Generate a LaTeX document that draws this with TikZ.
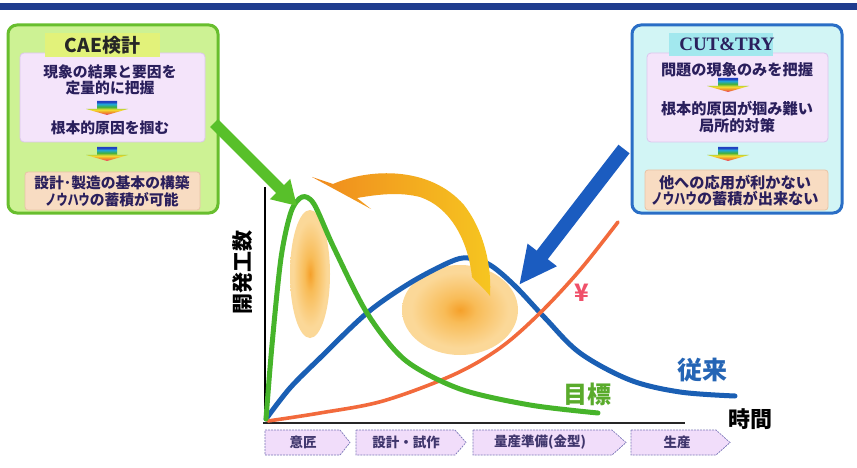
\documentclass[tikz,border=0pt]{standalone}
\usepackage{fontspec}
\newfontfamily\jp{Noto Sans CJK JP}
\newfontfamily\tnr{Liberation Serif}
\usetikzlibrary{arrows.meta}
\definecolor{topbar}{HTML}{1F3C8E}
\definecolor{gborder}{HTML}{68BE2E}
\definecolor{gfill}{HTML}{CDF294}
\definecolor{gtab}{HTML}{E2F27A}
\definecolor{bborder}{HTML}{2A6EC6}
\definecolor{bfill}{HTML}{D2F5F5}
\definecolor{btab}{HTML}{A2E8EE}
\definecolor{lav}{HTML}{F4E4FA}
\definecolor{lavb}{HTML}{DCC6EE}
\definecolor{peach}{HTML}{F8DCC2}
\definecolor{peachb}{HTML}{E8C4A6}
\definecolor{txtnavy}{HTML}{2A1F5C}
\definecolor{stagefill}{HTML}{F1DDFA}
\definecolor{stageb}{HTML}{7A76B8}
\definecolor{cgreen}{HTML}{46B42A}
\definecolor{cblue}{HTML}{1A5FB4}
\definecolor{cred}{HTML}{F26A3C}
\definecolor{goalc}{HTML}{5AAB2C}
\definecolor{convc}{HTML}{2565B5}
\definecolor{yenc}{HTML}{F0506A}
\definecolor{garrowc}{HTML}{58C02A}
\definecolor{barrowc}{HTML}{1B5CC0}
\definecolor{yarrowa}{HTML}{F08A1E}
\definecolor{yarrowb}{HTML}{F6C620}
\definecolor{glowin}{HTML}{F5A02A}
\definecolor{glowmid}{HTML}{F8BC58}
\definecolor{glowout}{HTML}{FBD898}
\definecolor{rbred}{HTML}{E8407A}
\definecolor{rborange}{HTML}{F08A2A}
\definecolor{rbyellow}{HTML}{F2E030}
\definecolor{rbgreen}{HTML}{40B040}
\definecolor{rbcyan}{HTML}{20A8D8}
\definecolor{rbblue}{HTML}{2040C0}
\pgfdeclareverticalshading{rainbowsh}{100bp}{color(0bp)=(rbred); color(25bp)=(rbred); color(34bp)=(rborange); color(44bp)=(rbyellow); color(54bp)=(rbgreen); color(64bp)=(rbcyan); color(72bp)=(rbblue); color(100bp)=(rbblue)}
\pgfdeclareradialshading{glowsh}{\pgfpoint{0bp}{0bp}}{color(0bp)=(glowin); color(7bp)=(glowmid); color(21bp)=(glowout); color(25bp)=(glowout); color(50bp)=(glowout)}
\newcommand\myrainbow[2]{%
  \shade[shading=rainbowsh] (#1-10,#2) -- (#1+10,#2) -- (#1+10,#2+8) -- (#1+21,#2+8) -- (#1,#2+14) -- (#1-21,#2+8) -- (#1-10,#2+8) -- cycle;}
\begin{document}
\begin{tikzpicture}[x=1pt,y=-1pt,
  panel/.style={line width=3pt, rounded corners=9pt, inner sep=0pt},
  tabbox/.style={inner sep=0pt},
  inbox/.style={draw=lavb, fill=lav, line width=0.8pt, rounded corners=4pt, inner sep=0pt},
  pbox/.style={draw=peachb, fill=peach, line width=0.8pt, rounded corners=3pt, inner sep=0pt},
  btxt/.style={font=\jp\bfseries\fontsize{14.8}{16}\selectfont, text=txtnavy, inner sep=0pt},
  rtxt/.style={font=\jp\bfseries\fontsize{15.2}{17}\selectfont, text=txtnavy, inner sep=0pt},
  stagebox/.style={draw=stageb, fill=stagefill, line width=0.7pt, dash pattern=on 2pt off 1pt},
  stxt/.style={font=\jp\bfseries\fontsize{13.5}{15}\selectfont, text=txtnavy!90, inner sep=0pt},
  curve/.style={line width=5pt, line cap=round, line join=round}
]
\useasboundingbox (0,0) rectangle (857,468);
\fill[white] (0,0) rectangle (857,468);
\fill[topbar] (0,3) rectangle (857,10);

% ---------- left panel ----------
\node[panel, draw=gborder, fill=gfill, minimum width=210pt, minimum height=188pt] (cae) at (113,119) {};
\node[inbox, minimum width=185pt, minimum height=89pt] (caein) at (112.5,97.5) {};
\node[tabbox, fill=gtab, minimum width=115pt, minimum height=24pt] (caetab) at (102.5,45) {};
\node[font=\jp\bfseries\fontsize{19}{20}\selectfont, text=black!85, inner sep=0pt] (caet) at (102.5,45) {CAE検計};
\node[btxt] (l1) at (110,72) {現象の結果と要因を};
\node[btxt] (l2) at (110,88) {定量的に把握};
\myrainbow{107}{101}
\node[btxt] (l3) at (110,128) {根本的原因を掴む};
\myrainbow{107}{147}
\node[pbox, minimum width=175pt, minimum height=38pt] (caep) at (112.5,191) {};
\node[btxt] (l4) at (112,183) {設計･製造の基本の構築};
\node[btxt] (l5) at (112,200) {\scalebox{0.75}[1]{ノウハウ}の蓄積が可能};

% ---------- right panel ----------
\node[panel, draw=bborder, fill=bfill, minimum width=210pt, minimum height=188pt] (ct) at (737,119) {};
\node[inbox, minimum width=181pt, minimum height=89pt] (ctin) at (737.5,97.5) {};
\node[tabbox, fill=btab, minimum width=104pt, minimum height=23pt] (cttab) at (721,44.5) {};
\node[font=\tnr\bfseries\fontsize{19}{20}\selectfont, text=txtnavy, inner sep=0pt] (ctt) at (727,44.5) {CUT\&TRY};
\node[rtxt] (r1) at (737,70) {問題の現象のみを把握};
\myrainbow{728}{78}
\node[rtxt] (r2) at (737,109) {根本的原因が掴み難い};
\node[rtxt] (r3) at (737,126) {局所的対策};
\myrainbow{728}{147}
\node[pbox, minimum width=183pt, minimum height=40pt] (ctp) at (736.5,190) {};
\node[rtxt] (r4) at (735,183) {他への応用が利かない};
\node[rtxt] (r5) at (735,199) {\scalebox{0.75}[1]{ノウハウ}の蓄積が出来ない};

% ---------- chart ----------
\shade[shading=glowsh] (310,274) ellipse [x radius=20, y radius=64];
\shade[shading=glowsh] (460,310) ellipse [x radius=58, y radius=45];

\coordinate (org) at (265,421);
\coordinate (ytop) at (265,187);
\coordinate (xstart) at (263,423);
\coordinate (xend) at (685,423);
\draw[line width=1.3pt, black] (ytop) -- (org);
\draw[line width=2.4pt, black!85] (xstart) -- (xend);

\draw[curve, cblue] plot[smooth, tension=0.55] coordinates {(266,419) (290,388) (320,358) (367,313) (410,283) (450,262) (468,258) (490,265) (515,286) (545,318) (580,353) (630,380) (680,392) (735,396)};
\draw[curve, cred, line width=3.6pt] plot[smooth, tension=0.55] coordinates {(268,421) (320,413) (383,401) (453,375) (500,348) (540,313) (580,270) (618,222)};
\draw[curve, cgreen] plot[smooth, tension=0.5] coordinates {(266,419) (272,345) (281,258) (291,212) (302,197) (314,204) (334,248) (367,313) (405,360) (460,389) (530,405) (598,413)};

\node[font=\jp\bfseries\fontsize{24}{26}\selectfont, text=yenc, inner sep=0pt] (yen) at (582,293) {¥};
\node[font=\jp\bfseries\fontsize{24}{26}\selectfont, text=goalc, inner sep=0pt] (goal) at (587,394) {目標};
\node[font=\jp\bfseries\fontsize{25}{27}\selectfont, text=convc, inner sep=0pt] (conv) at (702,370) {従来};
\node[font=\jp\bfseries\fontsize{22}{24}\selectfont, text=black, inner sep=0pt] (time) at (750,419) {時間};
\node[font=\jp\bfseries\fontsize{21}{23}\selectfont, text=black, inner sep=0pt, rotate=90] (ylab) at (243,272) {開発工数};

% stage chevrons
\draw[stagebox] (265,430) -- (340,430) -- (350,442.5) -- (340,455) -- (265,455) -- cycle;
\draw[stagebox] (356,430) -- (455,430) -- (466,442.5) -- (455,455) -- (356,455) -- cycle;
\draw[stagebox] (473,430) -- (612,430) -- (626,442.5) -- (612,455) -- (473,455) -- cycle;
\draw[stagebox] (631,430) -- (716,430) -- (730,442.5) -- (716,455) -- (631,455) -- cycle;
\node[stxt] (s1) at (303,442.5) {意匠};
\node[stxt] (s2) at (406,442.5) {設計・試作};
\node[stxt] (s3) at (540,442.5) {量産準備(金型)};
\node[stxt] (s4) at (677,442.5) {生産};

% curved yellow-orange arrow
\shade[left color=yarrowa, right color=yarrowb]
  (312,177) -- (333,184)
  .. controls (370,168) and (430,166) .. (464,205)
  .. controls (482,228) and (492,262) .. (490,296)
  .. controls (484,288) and (476,282) .. (472,277)
  .. controls (468,240) and (450,207) .. (420,197)
  .. controls (400,192) and (380,194) .. (357,198)
  -- (371,209) -- cycle;

% big arrows
\coordinate (gs) at (214,123);
\coordinate (gt) at (297,206);
\draw[garrowc, line width=11pt, -{Triangle[width=27pt,length=24pt]}] (gs) -- (gt);
\coordinate (bs) at (624,149);
\coordinate (bt) at (519,285);
\draw[barrowc, line width=14pt, -{Triangle[width=34pt,length=38pt]}] (bs) -- (bt);
\end{tikzpicture}
\end{document}
